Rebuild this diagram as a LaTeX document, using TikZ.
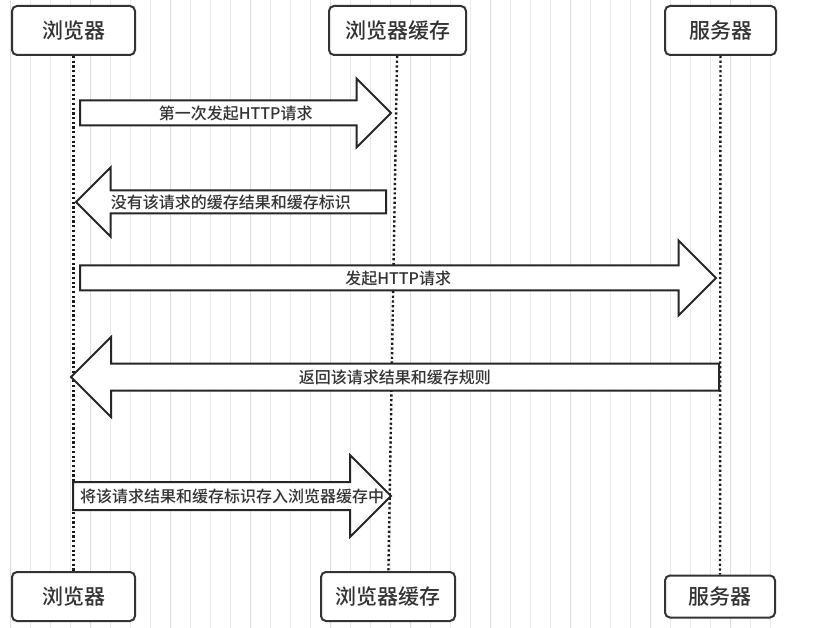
\documentclass[tikz,border=0pt]{standalone}
\usepackage{fontspec}
\setmainfont{Noto Sans CJK SC}[UprightFont=* Medium]
\usetikzlibrary{positioning}
\usetikzlibrary{calc}
\usetikzlibrary{shapes.arrows}
\definecolor{ink}{HTML}{333333}
\definecolor{gridminor}{HTML}{EBEBEB}
\definecolor{gridmajor}{HTML}{DDDDDD}

\begin{document}
\begin{tikzpicture}[x=1pt, y=-1pt,
    actor/.style={draw=ink, line width=2pt, rounded corners=5pt, fill=white, text=ink,
        font=\fontsize{21}{25}\selectfont, minimum height=49pt, inner sep=0pt},
    lifeline/.style={draw=black!90, line width=2.4pt, dash pattern=on 2.2pt off 2.5pt},
    msg/.style={single arrow, draw=black!85, line width=2pt, fill=white, anchor=tail,
        text height=11pt, text depth=3pt, inner xsep=0pt},
    back/.style={shape border rotate=180},
    msgtext/.style={text=ink, font=\fontsize{16}{19}\selectfont, inner sep=0pt}]

    \useasboundingbox (0,0) rectangle (814,628);
    \fill[white] (0,0) rectangle (814,628);

    % grid
    \begin{scope}[shift={(10,0)}]
        \draw[gridminor, line width=1pt, step=20] (-10,0) grid (778,628);
        \draw[gridmajor, line width=1pt, step=80] (-10,0) grid (778,628);
    \end{scope}

    \node[actor, minimum width=123pt] (b1) at (73.5,30.5) {浏览器};
    \node[actor, minimum width=137pt, right=192pt of b1] (c1) {浏览器缓存};
    \node[actor, minimum width=111pt, right=197pt of c1] (s1) {服务器};

    \node[actor, minimum width=123pt, below=515pt of b1] (b2) {浏览器};
    \node[actor, minimum width=134pt, right=184pt of b2] (c2) {浏览器缓存};
    \node[actor, minimum width=110pt, minimum height=42pt, right=208pt of c2] (s2) {服务器};

    \draw[lifeline] (b1) -- (b2);
    \draw[lifeline] (c1) -- (c2);
    \draw[lifeline] (s1) -- (s2);

    % messages
    \node[msg, minimum height=311pt, inner ysep=4.5pt, single arrow head extend=22pt] (m1) at (79,113) {};
    \node[msg, back, minimum height=310pt, inner ysep=3.5pt, single arrow head extend=23pt] (m2) at (387,202) {};
    \node[msg, minimum height=636pt, inner ysep=4.5pt, single arrow head extend=25pt] (m3) at (79,278) {};
    \node[msg, back, minimum height=648pt, inner ysep=5.5pt, single arrow head extend=26.5pt] (m4) at (720,377) {};
    \node[msg, minimum height=318pt, inner ysep=6pt, single arrow head extend=27pt] (m5) at (72,496) {};

    \node[msgtext] at ($(m1.tail)!.5!(m1.tip)$) {第一次发起HTTP请求};
    \node[msgtext] at ($(m2.tail)!.5!(m2.tip)$) {没有该请求的缓存结果和缓存标识};
    \node[msgtext] at ($(m3.tail)!.5!(m3.tip)$) {发起HTTP请求};
    \node[msgtext] at ($(m4.tail)!.5!(m4.tip)$) {返回该请求结果和缓存规则};
    \node[msgtext] at ($(m5.tail)!.5!(m5.tip)$) {将该请求结果和缓存标识存入浏览器缓存中};

\end{tikzpicture}
\end{document}
